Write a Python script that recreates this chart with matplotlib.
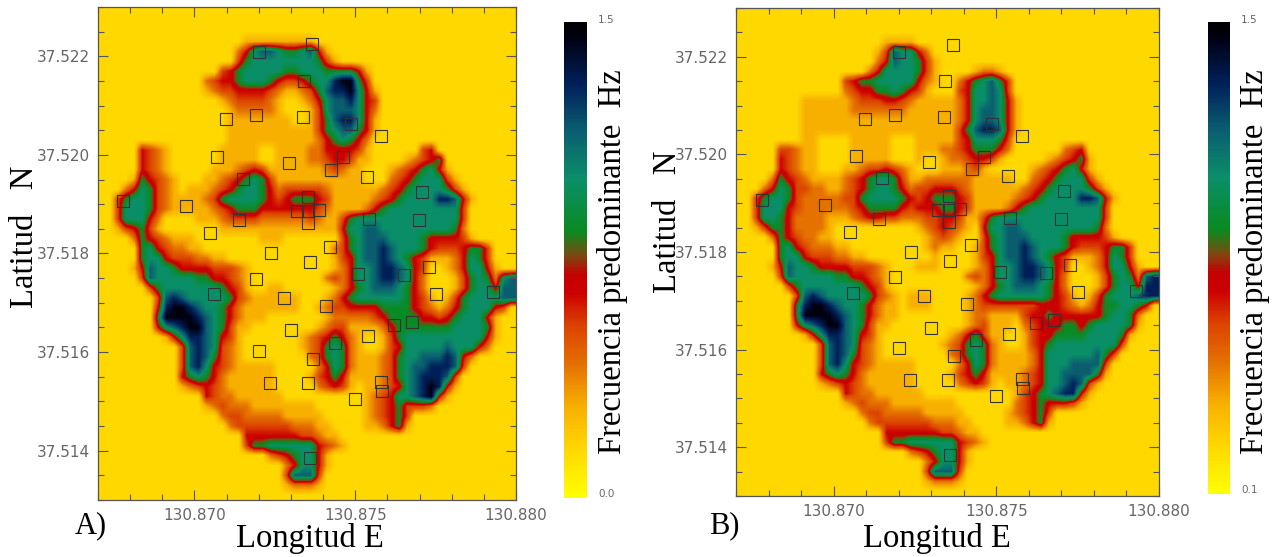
import matplotlib
matplotlib.use('Agg')
import matplotlib.pyplot as plt
import numpy as np
from matplotlib.colors import LinearSegmentedColormap, Normalize
from matplotlib.cm import ScalarMappable
from matplotlib.ticker import MultipleLocator, FormatStrFormatter

W, H = 1273, 557

# frequency in Hz for each digit of the maps below
hz_a = [0.15, 0.285, 0.42, 0.54, 0.645, 0.855, 1.005, 1.155, 1.305, 1.455]
hz_b = [0.24, 0.366, 0.492, 0.604, 0.702, 0.898, 1.038, 1.178, 1.318, 1.458]

Z = "0000000000 0000000000 0000000000 0000000000 0000000000 00"

map_a = [
    Z, Z, Z,
    "0000000000 0000000011 1111111000 0000000000 0000000000 00",
    "0000000000 0000000246 7765567410 0000000000 0000000000 00",
    "0000000000 0000000356 6666666531 0000000000 0000000000 00",
    "0000000000 0000034566 6665566655 5541000000 0000000000 00",
    "0000000000 0002344566 6543345668 9953000000 0000000000 00",
    "0000000000 0001233444 4321123578 8964100000 0000000000 00",
    "0000000000 0000012333 3210012467 7864300000 0000000000 00",
    "0000000000 0000001222 2210001367 7764200000 0000000000 00",
    "0000000000 0000001111 1111001357 8864100000 0000000000 00",
    "0000000000 0000001111 1111111356 7754100000 0000000000 00",
    "0000000000 0000001111 1111111245 6542000000 0000000000 00",
    "0000043210 0000011111 0011112244 4431000000 3400000000 00",
    "0000043210 0000011111 0011112234 4311000012 3450000000 00",
    "0000043210 0000111234 3111111123 2110001234 5641000000 00",
    "0000154321 0001123456 5311111111 1110002345 6663100000 00",
    "0002465321 0111234566 5423333321 1111123456 6665310000 00",
    "0035665321 1112356666 5434555431 1111234566 6688741000 00",
    "0036665321 1111234555 4444444321 1112456666 6666630000 00",
    "0036664200 0011123333 2222223211 3566666666 6666630000 00",
    "0013453100 0000011111 1111111111 4667766666 6666520000 00",
    "0000254321 1100000000 1110000000 3567776666 5444431000 00",
    "0000056432 2110000000 0000000002 3567787666 5433345530 00",
    "0000056643 3322110000 0000000001 3467787654 3111246530 00",
    "0000147665 4444333210 0000000001 2466788764 3001246641 00",
    "0000037666 6655443210 0000000023 2466788764 2000135652 67",
    "0000003566 6666654310 0110000001 2456777654 2000135664 77",
    "0000000378 7666665321 1111100012 4566666654 3101356666 77",
    "0000000489 9876654211 1111100123 3444455554 3212456664 30",
    "0000000599 9987654211 1000000012 2222345555 4434566641 00",
    "0000000467 8997653110 0000000123 3111124555 5555666651 00",
    "0000000014 6887643100 0000012345 4210013566 6666666641 00",
    "0000000000 3787632100 0000012356 5210013466 6667666420 00",
    "0000000000 3787532100 0000002356 5211123566 7778742000 00",
    "0000000000 3786432111 1100000246 5211123567 7888730000 00",
    "0000000000 4565421111 1100001345 4111123567 8887300000 00",
    "0000000000 1234321111 1100000234 3101123467 8984100000 00",
    "0000000000 0004322111 1110000000 0001234667 8941000000 00",
    "0000000000 0001232221 1111111000 0001234533 3200000000 00",
    "0000000000 0000023322 2221111100 0001234530 0000000000 00",
    "0000000000 0000002333 3333222110 0001124510 0000000000 00",
    "0000000000 0000000044 4444433211 0000000000 0000000000 00",
    "0000000000 0000000035 5666666432 1000000000 0000000000 00",
    "0000000000 0000000000 0234566410 0000000000 0000000000 00",
    "0000000000 0000000000 0002466410 0000000000 0000000000 00",
    "0000000000 0000000000 0003777300 0000000000 0000000000 00",
    "0000000000 0000000000 0001222100 0000000000 0000000000 00",
    Z,
]

map_b = [
    Z, Z, Z,
    "0000000000 0000000011 1100000000 0000000000 0000000000 00",
    "0000000000 0000000137 6642000000 0000000000 0000000000 00",
    "0000000000 0000000247 6653100000 0000000000 0000000000 00",
    "0000000000 0000002466 6653100001 2210000000 0000000000 00",
    "0000000000 0003455666 6642100245 6753000000 0000000000 00",
    "0000000000 0002344556 5431000346 6763000000 0000000000 00",
    "0000000011 1111233344 3211111246 6764100000 0000000000 00",
    "0000000011 1111222222 2111111246 7764100000 0000000000 00",
    "0000000011 1111111111 1111111246 7764100000 0000000000 00",
    "0000000011 1111111111 1111111357 8874100000 0000000000 00",
    "0000000011 0000111110 0011111346 6653000000 0000000000 00",
    "0000033211 0000111110 0011122345 5542000000 2340000000 00",
    "0000043211 0000111110 0010012234 4310000012 3451000000 00",
    "0000043211 0001123343 2100011123 1000001234 5641000000 00",
    "0000254321 1112345665 3112222221 1111002345 6663100000 00",
    "0002465332 2112345665 4233444321 1111123456 6665310000 00",
    "0035665322 2223356666 5434555431 1111234566 6688741000 00",
    "0036664322 2222345555 4344455431 1112456666 6666630000 00",
    "0036654222 2111234433 2223344311 3566666666 6666630000 00",
    "0013554222 2100000000 0012343210 4667766666 6666520000 00",
    "0000254322 1100000000 0001232100 3567776666 5444431000 00",
    "0000056432 2211000000 0001211001 3567787666 5433345530 00",
    "0000056643 3322110000 0000100001 3467787654 3111246530 00",
    "0000147665 4444333210 0011100001 2466788764 3001246641 00",
    "0000037666 6655443210 0000000023 2466788764 2000135652 78",
    "0000003566 6666654310 0000000001 2456777654 2000135664 88",
    "0000000378 7666665321 0111000012 4566666654 3101356667 88",
    "0000000589 9876654211 0111000012 3333333444 3212455665 40",
    "0000000599 9987654211 0000000012 2111134454 4444456652 00",
    "0000000467 8997653110 0000000012 3111023444 5545666651 00",
    "0000000014 6887643100 0000001245 3110013445 5556666510 00",
    "0000000000 3787632100 0000012356 5210013456 6666666300 00",
    "0000000000 3787532100 0000002356 5211112466 6666753000 00",
    "0000000000 3786432111 1100000246 5211112466 6777730000 00",
    "0000000000 4565421111 1100001345 4111123466 7777510000 00",
    "0000000000 1234321111 1100000234 3101123466 7873100000 00",
    "0000000000 0004322111 1110000000 0000134567 8841000000 00",
    "0000000000 0001232221 1111111000 0000234544 4310000000 00",
    "0000000000 0000023322 2221111100 0001234530 0000000000 00",
    "0000000000 0000002333 3333222110 0001124510 0000000000 00",
    "0000000000 0000000044 4444433211 0000000000 0000000000 00",
    "0000000000 0000000035 5666666432 1000000000 0000000000 00",
    "0000000000 0000000000 0234566410 0000000000 0000000000 00",
    "0000000000 0000000000 0002466410 0000000000 0000000000 00",
    "0000000000 0000000000 0003777300 0000000000 0000000000 00",
    "0000000000 0000000000 0001222100 0000000000 0000000000 00",
    Z,
]

# measuring stations, same in both panels
st_lon = [130.87201, 130.87367, 130.87341, 130.87190, 130.87097, 130.87339, 130.87487, 130.87579,
          130.87070, 130.87462, 130.87294, 130.87426, 130.87537, 130.87150, 130.87707, 130.86779,
          130.87354, 130.86974, 130.87320, 130.87354, 130.87387, 130.87140, 130.87698, 130.87542,
          130.87354, 130.87049, 130.87422, 130.87239, 130.87359, 130.87728, 130.87190, 130.87510,
          130.87653, 130.87060, 130.87277, 130.87750, 130.87930, 130.87409, 130.87621, 130.87677,
          130.87299, 130.87540, 130.87437, 130.87200, 130.87369, 130.87235, 130.87352, 130.87579,
          130.87583, 130.87499, 130.87359]
st_lat = [37.52209, 37.52225, 37.52150, 37.52081, 37.52072, 37.52076, 37.52062, 37.52038,
          37.51996, 37.51995, 37.51984, 37.51970, 37.51955, 37.51952, 37.51924, 37.51906,
          37.51915, 37.51896, 37.51887, 37.51887, 37.51888, 37.51868, 37.51867, 37.51869,
          37.51861, 37.51841, 37.51814, 37.51801, 37.51782, 37.51773, 37.51748, 37.51759,
          37.51757, 37.51717, 37.51710, 37.51718, 37.51721, 37.51694, 37.51655, 37.51661,
          37.51644, 37.51632, 37.51619, 37.51603, 37.51586, 37.51538, 37.51537, 37.51539,
          37.51521, 37.51505, 37.51385]

cmap = LinearSegmentedColormap.from_list('frec', [
    (0.00, '#FFFF00'), (0.10, '#FFD800'), (0.19, '#F8B000'), (0.28, '#E47000'),
    (0.36, '#DC4400'), (0.43, '#CC0000'), (0.47, '#C40202'), (0.51, '#7A4A10'),
    (0.56, '#0A8A20'), (0.67, '#0A8F68'), (0.77, '#0A5F70'), (0.87, '#00205A'),
    (0.97, '#000010'), (1.00, '#000000')])

GREY = '#555555'
SERIF = 'Liberation Serif'


def box(x0, y0, x1, y1):
    return [x0 / W, 1 - y1 / H, (x1 - x0) / W, (y1 - y0) / H]


def to_grid(rows, levels):
    lv = np.array(levels)
    digits = [[int(c) for c in r.replace(' ', '')] for r in rows]
    return lv[np.array(digits)]


def panel(fig, rect, rows, levels, vmin, bar_rect, low_label, letter, ylab_x, ylab_y, xlab_x, letter_x, bar_x):
    ax = fig.add_axes(box(*rect))
    ax.imshow(to_grid(rows, levels), cmap=cmap, norm=Normalize(vmin, 1.5), interpolation='bilinear',
              extent=[130.867, 130.880, 37.513, 37.523], aspect='auto', origin='upper')
    ax.plot(st_lon, st_lat, 's', ms=8.2, mfc='none', mec='#333333', mew=0.8)
    ax.set_xlim(130.867, 130.880)
    ax.set_ylim(37.513, 37.523)
    ax.xaxis.set_major_locator(MultipleLocator(0.005))
    ax.xaxis.set_minor_locator(MultipleLocator(0.001))
    ax.yaxis.set_major_locator(MultipleLocator(0.002))
    ax.yaxis.set_minor_locator(MultipleLocator(0.0005))
    ax.xaxis.set_major_formatter(FormatStrFormatter('%.3f'))
    ax.yaxis.set_major_formatter(FormatStrFormatter('%.3f'))
    ax.tick_params(which='major', direction='in', top=True, right=True, length=7.5, width=0.8,
                   color=GREY, labelcolor='#666666', labelsize=11, pad=6)
    ax.tick_params(which='minor', direction='in', top=True, right=True, length=4, width=0.8, color=GREY)
    for s in ax.spines.values():
        s.set_color(GREY)
        s.set_linewidth(0.9)

    cax = fig.add_axes(box(*bar_rect))
    fig.colorbar(ScalarMappable(norm=Normalize(vmin, 1.5), cmap=cmap), cax=cax)
    cax.set_yticks([])
    cax.set_xticks([])
    for s in cax.spines.values():
        s.set_visible(False)

    fig.text((bar_rect[2] + 11) / W, 1 - (bar_rect[1] - 2) / H, '1.5', fontsize=7.5, color='#666666', va='center')
    fig.text((bar_rect[2] + 11) / W, 1 - (bar_rect[3] - 4) / H, low_label, fontsize=7.5, color='#666666', va='center')

    fig.text(bar_x / W, 1 - 262 / H, 'Frecuencia predominante  Hz', family=SERIF, fontsize=23.5,
             rotation=90, ha='center', va='center')
    fig.text(ylab_x / W, 1 - ylab_y / H, 'Latitud   N', family=SERIF, fontsize=23.5,
             rotation=90, ha='center', va='center')
    fig.text(xlab_x / W, 1 - 539 / H, 'Longitud E', family=SERIF, fontsize=23.5, ha='center', va='center')
    fig.text(letter_x / W, 1 - 526 / H, letter, family=SERIF, fontsize=22, ha='left', va='center')


fig = plt.figure(figsize=(W / 100, H / 100), dpi=100)

panel(fig, (98, 7, 516, 500), map_a, hz_a, 0.0, (564, 22, 587, 498), '0.0', 'A)', 25, 237, 310, 75, 613)
panel(fig, (736, 8, 1159, 496), map_b, hz_b, 0.1, (1208, 22, 1230, 494), '0.1', 'B)', 668, 222, 937, 709, 1255)

fig.savefig('out.png', dpi=100)
